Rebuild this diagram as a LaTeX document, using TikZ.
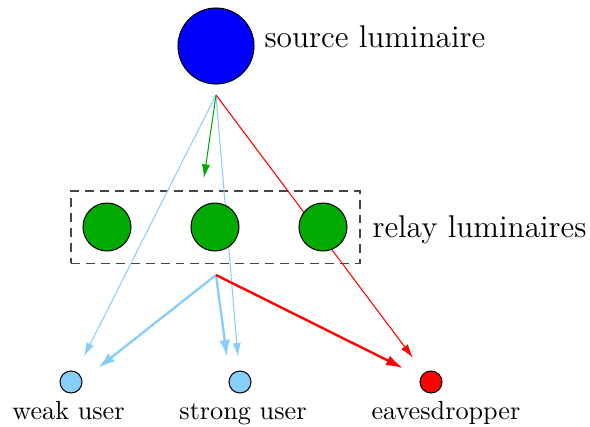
\documentclass[tikz,border=0pt]{standalone}
\usetikzlibrary{arrows.meta}
\definecolor{lblue}{RGB}{135,206,250}
\definecolor{rgreen}{RGB}{0,170,0}
\definecolor{boxgray}{RGB}{70,70,70}
\tikzset{
  srcnode/.style={circle,draw=black,fill=blue,minimum size=29pt,inner sep=0pt},
  relaynode/.style={circle,draw=black,fill=rgreen,minimum size=18.3pt,inner sep=0pt},
  usernode/.style={circle,draw=black,minimum size=8.4pt,inner sep=0pt},
  thinarrow/.style={line width=0.4pt,-{Latex[length=5.2pt,width=3.2pt]}},
  thickarrow/.style={line width=0.9pt,-{Latex[length=6.5pt,width=4pt]}},
  lbl/.style={inner sep=0pt,font=\large,anchor=base west},
  ulbl/.style={inner sep=0pt,anchor=base}
}
\begin{document}
\begin{tikzpicture}[x=0.013415cm,y=-0.013415cm]
\useasboundingbox (0,0) rectangle (590,426);
% source
\node[srcnode] (src) at (216,46) {};
\node[lbl] (srclbl) at (264,47) {source luminaire};
\coordinate (sp) at (216,95);
\coordinate (rp) at (216,275);
\coordinate (gtip) at (204,178);
\coordinate (tw) at (98,368);
\coordinate (ts) at (227,357);
% users
\node[usernode,fill=lblue] (u1) at (71,382) {};
\node[usernode,fill=lblue] (u2) at (240,382) {};
\node[usernode,fill=red] (u3) at (431,382) {};
\node[ulbl] (l1) at (68.5,419) {weak user};
\node[ulbl] (l2) at (243,419) {strong user};
\node[ulbl] (l3) at (446,419) {eavesdropper};
% box
\node[draw=boxgray,dash pattern=on 3.4pt off 2.3pt,line width=0.4pt,minimum width=110.3pt,minimum height=27.5pt,inner sep=0pt] (box) at (215.5,227) {};
\node[lbl] (rlbl) at (372,237) {relay luminaires};
% thin arrows from source
\draw[thinarrow,lblue,shorten >=6.6pt] (sp) -- (u1);
\draw[thinarrow,lblue,shorten >=5.3pt] (sp) -- (u2);
\draw[thinarrow,red,shorten >=7.2pt] (sp) -- (u3);
\draw[thinarrow,rgreen] (sp) -- (gtip);
% thick arrows from relays
\draw[thickarrow,lblue] (rp) -- (tw);
\draw[thickarrow,lblue] (rp) -- (ts);
\draw[thickarrow,red,shorten >=7.5pt] (rp) -- (u3);
% relays drawn over lines
\node[relaynode] (r1) at (107,227) {};
\node[relaynode] (r2) at (215,227) {};
\node[relaynode] (r3) at (323,227) {};
\end{tikzpicture}
\end{document}
